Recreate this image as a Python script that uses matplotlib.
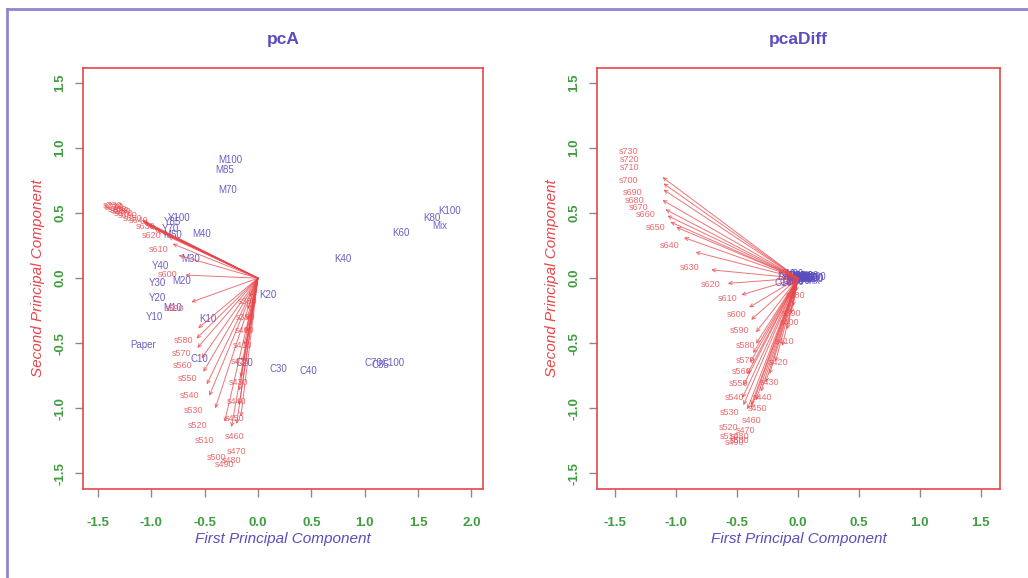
import matplotlib
matplotlib.use("Agg")
import matplotlib.pyplot as plt
from matplotlib.lines import Line2D

plt.rcParams['font.family'] = ['Liberation Sans', 'DejaVu Sans']

# ---------------- data ----------------
wavelengths = ['s380', 's390', 's400', 's410', 's420', 's430', 's440', 's450', 's460',
               's470', 's480', 's490', 's500', 's510', 's520', 's530', 's540', 's550',
               's560', 's570', 's580', 's590', 's600', 's610', 's620', 's630', 's640',
               's650', 's660', 's670', 's680', 's690', 's700', 's710', 's720', 's730']

# pcA loadings (label positions)
pcA_load_x = [-0.10, -0.12, -0.13, -0.14, -0.16, -0.18, -0.20, -0.22, -0.22,
              -0.20, -0.25, -0.31, -0.39, -0.50, -0.57, -0.60, -0.64, -0.66,
              -0.71, -0.72, -0.70, -0.78, -0.85, -0.93, -1.00, -1.05, -1.12,
              -1.18, -1.22, -1.26, -1.28, -1.30, -1.32, -1.34, -1.35, -1.36]
pcA_load_y = [-0.18, -0.30, -0.40, -0.52, -0.64, -0.80, -0.95, -1.08, -1.22,
              -1.33, -1.40, -1.43, -1.38, -1.25, -1.13, -1.02, -0.90, -0.77,
              -0.67, -0.58, -0.48, -0.23, 0.03, 0.22, 0.33, 0.40, 0.44,
              0.46, 0.48, 0.50, 0.51, 0.52, 0.53, 0.54, 0.55, 0.56]

# pcaDiff loadings (label positions)
diff_load_x = [-0.02, -0.05, -0.07, -0.11, -0.16, -0.23, -0.29, -0.33, -0.38,
               -0.43, -0.48, -0.52, -0.48, -0.56, -0.57, -0.56, -0.52, -0.49,
               -0.46, -0.43, -0.43, -0.48, -0.50, -0.58, -0.72, -0.89, -1.05,
               -1.17, -1.25, -1.31, -1.34, -1.36, -1.39, -1.38, -1.38, -1.39]
diff_load_y = [-0.13, -0.27, -0.34, -0.49, -0.65, -0.80, -0.92, -1.00, -1.09,
               -1.17, -1.22, -1.26, -1.25, -1.22, -1.15, -1.03, -0.92, -0.81,
               -0.72, -0.63, -0.52, -0.40, -0.28, -0.16, -0.05, 0.08, 0.25,
               0.39, 0.49, 0.54, 0.60, 0.66, 0.75, 0.85, 0.91, 0.97]

samples = ['Paper', 'Y10', 'Y20', 'Y30', 'Y40', 'Y70', 'Y85', 'Y100',
           'M10', 'M20', 'M30', 'M40', 'M50', 'M70', 'M85', 'M100',
           'C10', 'C20', 'C30', 'C40', 'C70', 'C85', 'C100',
           'K10', 'K20', 'K40', 'K60', 'K80', 'K100', 'Mix']

pcA_score_x = [-1.08, -0.97, -0.94, -0.94, -0.91, -0.82, -0.80, -0.74,
               -0.80, -0.72, -0.63, -0.53, -0.80, -0.28, -0.31, -0.26,
               -0.55, -0.13, 0.19, 0.47, 1.08, 1.15, 1.27,
               -0.47, 0.09, 0.80, 1.34, 1.63, 1.80, 1.70]
pcA_score_y = [-0.51, -0.30, -0.15, -0.04, 0.09, 0.38, 0.43, 0.46,
               -0.23, -0.02, 0.15, 0.34, 0.33, 0.68, 0.83, 0.91,
               -0.62, -0.65, -0.70, -0.71, -0.65, -0.67, -0.65,
               -0.31, -0.13, 0.15, 0.35, 0.46, 0.52, 0.40]

diff_score_x = [-0.06, -0.04, -0.02, 0.00, 0.02, 0.04, 0.06, 0.08,
                -0.03, -0.01, 0.01, 0.03, 0.05, 0.07, 0.09, 0.11,
                -0.12, -0.08, -0.05, -0.02, 0.03, 0.08, 0.12,
                -0.09, -0.05, 0.00, 0.05, 0.10, 0.14, 0.12]
diff_score_y = [0.01, 0.02, 0.03, 0.02, 0.01, 0.00, -0.01, 0.00,
                -0.02, -0.01, 0.00, 0.01, 0.02, 0.01, 0.00, -0.01,
                -0.04, -0.03, -0.02, -0.03, -0.02, -0.01, 0.00,
                0.03, 0.02, 0.01, 0.00, 0.02, 0.01, -0.02]

xticks_left = [-1.5, -1.0, -0.5, 0.0, 0.5, 1.0, 1.5, 2.0]
xticks_right = [-1.5, -1.0, -0.5, 0.0, 0.5, 1.0, 1.5]
yticks = [-1.5, -1.0, -0.5, 0.0, 0.5, 1.0, 1.5]

# ---------------- style ----------------
RED = '#e8454a'
BLUE = '#5b4cc0'
GREEN = '#3f9e3f'
TICKC = '#8a8a8a'

fig = plt.figure(figsize=(10.28, 5.78), dpi=100)
fig.patch.set_facecolor('white')

# outer purple frame
fig.add_artist(Line2D([7 / 1028, 7 / 1028], [0, 1 - 9 / 578], transform=fig.transFigure,
                      color='#8f86d0', lw=2.0))
fig.add_artist(Line2D([7 / 1028, 1.0], [1 - 9 / 578, 1 - 9 / 578], transform=fig.transFigure,
                      color='#8f86d0', lw=2.0))

bottom = 1 - 489 / 578
height = (489 - 68) / 578
ax1 = fig.add_axes([83 / 1028, bottom, 400 / 1028, height])
ax2 = fig.add_axes([597 / 1028, bottom, 403 / 1028, height])


def style(ax, title, xlim, xticks):
    ax.set_xlim(*xlim)
    ax.set_ylim(-1.62, 1.615)
    ax.set_xticks(xticks)
    ax.set_yticks(yticks)
    ax.set_xticklabels([f"{t:.1f}" for t in xticks])
    ax.set_yticklabels([f"{t:.1f}" for t in yticks], rotation=90, va='center')
    for s in ax.spines.values():
        s.set_color(RED)
        s.set_linewidth(1.2)
    ax.tick_params(axis='both', direction='out', length=6, width=1, color=TICKC,
                   labelcolor=GREEN, labelsize=9.5, pad=14)
    ax.tick_params(axis='y', pad=6)
    for lab in ax.get_xticklabels() + ax.get_yticklabels():
        lab.set_fontweight('bold')
    ax.set_title(title, color=BLUE, fontsize=12.5, fontweight='bold', pad=17)
    ax.set_xlabel('First Principal Component', color=BLUE, fontstyle='italic',
                  fontsize=11, labelpad=2)
    ax.set_ylabel('Second Principal Component', color=RED, fontstyle='italic',
                  fontsize=11, labelpad=7)


def biplot(ax, sx, sy, lx, ly):
    for name, x, y in zip(samples, sx, sy):
        ax.text(x, y, name, color=BLUE, fontsize=7, ha='center', va='center', alpha=0.9)
    for name, x, y in zip(wavelengths, lx, ly):
        ax.annotate('', xy=(0.8 * x, 0.8 * y), xytext=(0, 0),
                    arrowprops=dict(arrowstyle='->', color=RED, lw=0.7, alpha=0.75,
                                    mutation_scale=6, shrinkA=0, shrinkB=0))
        ax.text(x, y, name, color=RED, fontsize=6.5, ha='center', va='center', alpha=0.8)


style(ax1, 'pcA', (-1.64, 2.11), xticks_left)
style(ax2, 'pcaDiff', (-1.65, 1.66), xticks_right)
biplot(ax1, pcA_score_x, pcA_score_y, pcA_load_x, pcA_load_y)
biplot(ax2, diff_score_x, diff_score_y, diff_load_x, diff_load_y)

fig.savefig('out.png', dpi=100, facecolor='white')
